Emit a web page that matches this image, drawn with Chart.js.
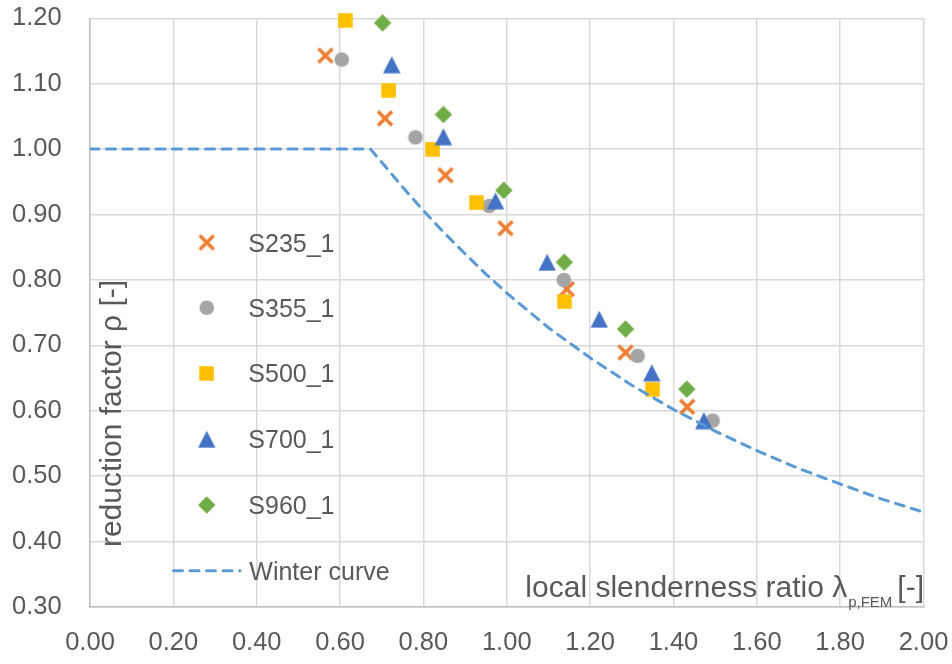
<!DOCTYPE html>
<html><head><meta charset="utf-8">
<script src="https://cdn.jsdelivr.net/npm/chart.js@4.4.1/dist/chart.umd.min.js"></script>
<style>html,body{margin:0;padding:0;background:#fff}#wrap{width:952px;height:664px}</style>
</head><body><div id="wrap"><canvas id="c" width="952" height="664"></canvas></div>
<script>
// ---- data ----
const xTicks = [0.0, 0.2, 0.4, 0.6, 0.8, 1.0, 1.2, 1.4, 1.6, 1.8, 2.0];
const yTicks = [0.3, 0.4, 0.5, 0.6, 0.7, 0.8, 0.9, 1.0, 1.1, 1.2];
const seriesNames = ['S235_1', 'S355_1', 'S500_1', 'S700_1', 'S960_1'];
const s235X = [0.565, 0.708, 0.853, 0.997, 1.144, 1.285, 1.433];
const s235Y = [1.143, 1.047, 0.960, 0.879, 0.786, 0.689, 0.606];
const s355X = [0.604, 0.781, 0.958, 1.137, 1.314, 1.494];
const s355Y = [1.137, 1.018, 0.913, 0.800, 0.684, 0.585];
const s500X = [0.612, 0.717, 0.822, 0.928, 1.138, 1.350];
const s500Y = [1.197, 1.090, 1.000, 0.918, 0.767, 0.633];
const s700X = [0.724, 0.848, 0.973, 1.097, 1.222, 1.348, 1.473];
const s700Y = [1.129, 1.019, 0.921, 0.827, 0.740, 0.658, 0.585];
const s960X = [0.702, 0.848, 0.993, 1.138, 1.285, 1.432];
const s960Y = [1.193, 1.053, 0.937, 0.827, 0.725, 0.633];
const winterLabel = 'Winter curve';
const winterX = [0.00, 0.673, 0.70, 0.75, 0.80, 0.85, 0.90, 0.95, 1.00, 1.10, 1.20, 1.30, 1.40, 1.50, 1.60, 1.70, 1.80, 1.90, 2.00];
const winterY = [1.000, 1.000, 0.980, 0.942, 0.906, 0.872, 0.840, 0.809, 0.780, 0.727, 0.681, 0.639, 0.602, 0.569, 0.539, 0.512, 0.488, 0.465, 0.445];
const xTitle = 'local slenderness ratio \u03BB';
const xTitleSub = 'p,FEM';
const xTitleEnd = '[-]';
const yTitle = 'reduction factor \u03C1 [-]';

// ---- styles ----
const FONT = 'Liberation Sans';
const TXT = '#595959';
const COL = {S235:'#ED7D31', S355:'#A5A5A5', S500:'#FFC000', S700:'#4472C4', S960:'#70AD47', W:'#5B9BD5'};

function mk(w, h, draw) {
  const c = document.createElement('canvas'); c.width = w; c.height = h;
  const g = c.getContext('2d'); draw(g); return c;
}
const mX = mk(18, 18, g => { g.strokeStyle = COL.S235; g.lineWidth = 3.5; g.lineCap = 'butt';
  g.beginPath(); g.moveTo(2, 2); g.lineTo(16, 16); g.moveTo(16, 2); g.lineTo(2, 16); g.stroke(); });
const mC = mk(16, 16, g => { g.fillStyle = COL.S355; g.beginPath(); g.arc(8, 8, 7.3, 0, Math.PI * 2); g.fill(); });
const mS = mk(15, 15, g => { g.fillStyle = COL.S500; g.fillRect(0.25, 0.25, 14.5, 14.5); });
const mT = mk(18, 18, g => { g.fillStyle = COL.S700; g.beginPath(); g.moveTo(9, 0.5); g.lineTo(17.7, 17.5); g.lineTo(0.3, 17.5); g.closePath(); g.fill(); });
const mD = mk(18, 18, g => { g.fillStyle = COL.S960; g.beginPath(); g.moveTo(9, 0.3); g.lineTo(17.7, 9); g.lineTo(9, 17.7); g.lineTo(0.3, 9); g.closePath(); g.fill(); });
const markers = [mX, mC, mS, mT, mD];

const pts = (xs, ys) => xs.map((x, i) => ({x: x, y: ys[i]}));
function sc(label, xs, ys, img, order) {
  return {label: label, data: pts(xs, ys), pointStyle: img, pointRadius: 8, pointHoverRadius: 8,
    showLine: false, order: order, clip: false};
}
function noPad(s) { s.paddingTop = 0; s.paddingBottom = 0; s.paddingLeft = 0; s.paddingRight = 0; }

const overlay = {
  id: 'overlay',
  afterDraw(chart) {
    const ctx = chart.ctx;
    ctx.save();
    // legend
    const lx = 206.7, tx = 248.3;
    const ly = [242.5, 307.7, 373.3, 439.3, 505];
    ctx.fillStyle = TXT;
    ctx.font = '25px "' + FONT + '"';
    ctx.textAlign = 'left'; ctx.textBaseline = 'alphabetic';
    for (let i = 0; i < 5; i++) {
      const m = markers[i];
      ctx.drawImage(m, lx - m.width / 2, ly[i] - m.height / 2);
      ctx.fillText(seriesNames[i], tx, ly[i] + 9);
    }
    // winter legend line
    ctx.strokeStyle = COL.W; ctx.lineWidth = 3; ctx.lineCap = 'round';
    ctx.setLineDash([9, 7.5]);
    ctx.beginPath(); ctx.moveTo(173.5, 570.7); ctx.lineTo(240, 570.7); ctx.stroke();
    ctx.setLineDash([]);
    ctx.fillText(winterLabel, 249.3, 579.5);
    // x title (inside plot, bottom right)
    const right = 924;
    ctx.font = '30px "' + FONT + '"';
    const wEnd = ctx.measureText(xTitleEnd).width;
    ctx.textAlign = 'right';
    ctx.fillText(xTitleEnd, right, 597);
    ctx.font = '15px "' + FONT + '"';
    const wSub = ctx.measureText(xTitleSub).width;
    ctx.fillText(xTitleSub, right - wEnd - 5, 607);
    ctx.font = '30px "' + FONT + '"';
    ctx.fillText(xTitle, right - wEnd - 5 - wSub - 1, 597);
    // y title (rotated, inside plot)
    ctx.translate(121, 413.5);
    ctx.rotate(-Math.PI / 2);
    ctx.textAlign = 'center';
    ctx.fillText(yTitle, 0, 0);
    ctx.restore();
  }
};

new Chart(document.getElementById('c'), {
  type: 'scatter',
  data: {datasets: [
    {label: winterLabel, data: pts(winterX, winterY), showLine: true, borderColor: COL.W, borderWidth: 3,
      borderDash: [9, 7.5], borderCapStyle: 'round', pointRadius: 0, pointHoverRadius: 0, tension: 0, fill: false, order: 0},
    sc(seriesNames[4], s960X, s960Y, mD, 1),
    sc(seriesNames[3], s700X, s700Y, mT, 2),
    sc(seriesNames[2], s500X, s500Y, mS, 3),
    sc(seriesNames[1], s355X, s355Y, mC, 4),
    sc(seriesNames[0], s235X, s235Y, mX, 5)
  ]},
  options: {
    responsive: false, animation: false, devicePixelRatio: 1, events: [],
    layout: {padding: {top: 18.3, right: 28.5, left: 0, bottom: 0}},
    plugins: {legend: {display: false}, tooltip: {enabled: false}},
    scales: {
      x: {
        type: 'linear', min: 0, max: 2,
        afterFit(s) { s.height = 57; noPad(s); },
        afterBuildTicks(s) { s.ticks = xTicks.map(v => ({value: v})); },
        grid: {color: '#D9D9D9', lineWidth: 1.5, drawTicks: false},
        border: {color: '#BFBFBF', width: 1.5},
        ticks: {padding: 21, color: TXT, font: {family: FONT, size: 25.5}, maxRotation: 0, autoSkip: false,
          callback: v => Number(v).toFixed(2)}
      },
      y: {
        type: 'linear', min: 0.3, max: 1.2,
        afterFit(s) { s.width = 90; noPad(s); },
        afterBuildTicks(s) { s.ticks = yTicks.map(v => ({value: v})); },
        grid: {color: '#D9D9D9', lineWidth: 1.5, drawTicks: false},
        border: {color: '#BFBFBF', width: 1.5},
        ticks: {padding: 28.3, color: TXT, font: {family: FONT, size: 25.5}, autoSkip: false,
          callback: v => Number(v).toFixed(2)}
      }
    }
  },
  plugins: [overlay]
});
</script>
</body></html>
